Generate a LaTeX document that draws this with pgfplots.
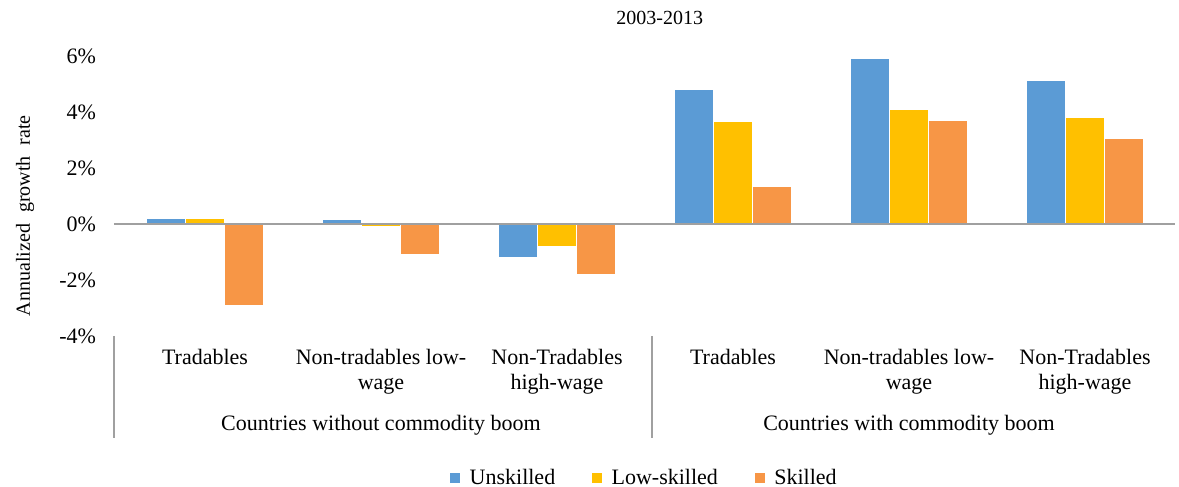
\documentclass[border=0pt]{standalone}
\usepackage{fontspec}
\setmainfont{Liberation Serif}
\usepackage{pgfplots}
\pgfplotsset{compat=1.18}
\definecolor{unsk}{HTML}{5B9BD5}
\definecolor{lowsk}{HTML}{FFC000}
\definecolor{sk}{HTML}{F79646}
\definecolor{axgray}{HTML}{A0A0A0}

\begin{document}
\begin{tikzpicture}
\path[use as bounding box] (-58.5pt,-75.5pt) rectangle (531pt,168pt);
\begin{axis}[
  at={(0,0)}, anchor=south west,
  scale only axis,
  width=528pt, height=140pt,
  ybar=0pt,
  bar width=19.5pt,
  xmin=-0.5, xmax=5.5,
  ymin=-4, ymax=6,
  xtick={0,1,2,3,4,5},
  xticklabels={Tradables,{Non-tradables low-\\wage},{Non-Tradables\\high-wage},
               Tradables,{Non-tradables low-\\wage},{Non-Tradables\\high-wage}},
  ytick={-4,-2,0,2,4,6},
  yticklabels={-4\%,-2\%,0\%,2\%,4\%,6\%},
  axis line style={draw=none},
  major tick length=0pt,
  font=\fontsize{11}{12.5}\selectfont,
  xticklabel style={align=center, anchor=north, yshift=-3pt},
  yticklabel style={anchor=east, xshift=-7pt},
  ylabel={Annualized\hspace{3pt} growth\hspace{3pt} rate},
  ylabel style={at={(axis description cs:-0.087,0.43)}, anchor=center,
                font=\fontsize{10}{12}\selectfont},
  legend style={at={(axis description cs:0.5,0)}, anchor=center, yshift=-71pt,
                draw=none, legend columns=3, font=\fontsize{11}{12}\selectfont,
                /tikz/every odd column/.append style={column sep=2.5pt},
                /tikz/every even column/.append style={column sep=16pt}},
  legend image code/.code={\fill[#1] (0pt,-2.7pt) rectangle (5.4pt,2.7pt);},
  clip=false,
]
\addplot+[fill=unsk, draw=white, line width=0.3pt] coordinates
  {(0,0.2) (1,0.15) (2,-1.2) (3,4.8) (4,5.92) (5,5.13)};
\addplot+[fill=lowsk, draw=white, line width=0.3pt] coordinates
  {(0,0.2) (1,-0.07) (2,-0.8) (3,3.65) (4,4.1) (5,3.8)};
\addplot+[fill=sk, draw=white, line width=0.3pt] coordinates
  {(0,-2.92) (1,-1.1) (2,-1.8) (3,1.35) (4,3.7) (5,3.06)};
\legend{Unskilled,Low-skilled,Skilled}
% zero line over the bars
\draw[axgray, line width=0.8pt] ([xshift=-1.5pt]axis cs:-0.5,0) -- ([xshift=1pt]axis cs:5.5,0);
% title
\node[font=\fontsize{10}{12}\selectfont] at ([yshift=19pt]axis description cs:0.514,1) {2003-2013};
% category group separators and names
\draw[axgray, line width=0.8pt] ([xshift=-1.5pt]axis cs:-0.5,-4) -- ([xshift=-1.5pt,yshift=-51pt]axis cs:-0.5,-4);
\draw[axgray, line width=0.8pt] ([xshift=3.5pt]axis cs:2.5,-4) -- ([xshift=3.5pt,yshift=-51pt]axis cs:2.5,-4);
\node at ([yshift=-44.5pt]axis cs:1,-4) {Countries without commodity boom};
\node at ([yshift=-44.5pt]axis cs:4,-4) {Countries with commodity boom};
\end{axis}
\end{tikzpicture}
\end{document}
